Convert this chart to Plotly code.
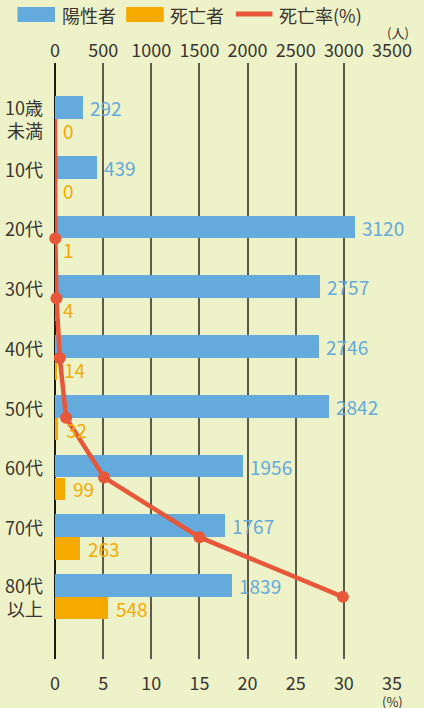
import plotly.graph_objects as go

categories = ["10歳<br>未満", "10代", "20代", "30代", "40代", "50代", "60代", "70代", "80代<br>以上"]
positives = [292, 439, 3120, 2757, 2746, 2842, 1956, 1767, 1839]
deaths = [0, 0, 1, 4, 14, 32, 99, 263, 548]
death_rate = [0, 0, 0.03, 0.15, 0.5, 1.15, 5.1, 15.0, 29.9]
count_ticks = [0, 500, 1000, 1500, 2000, 2500, 3000, 3500]
rate_ticks = [0, 5, 10, 15, 20, 25, 30, 35]

BLUE = "#64AADC"
ORANGE = "#F6AA00"
RED = "#E9573A"
BG = "#EDF2C8"
TXT = "#3a3530"
FONT = "Noto Sans CJK JP"

W, H = 424, 708
L, R, T, B = 55, 28, 63, 49
PW, PH = W - L - R, H - T - B

def px(xp):
    return (xp - L) / PW

def py(yp):
    return (H - B - yp) / PH

idx = list(range(len(categories)))
OFF = 0.19

fig = go.Figure()
fig.add_trace(go.Bar(
    y=[i - OFF for i in idx], x=positives, orientation="h", width=0.38,
    marker=dict(color=BLUE, line=dict(width=0)),
    xaxis="x", yaxis="y", showlegend=False, hoverinfo="x",
))
fig.add_trace(go.Bar(
    y=[i + OFF for i in idx], x=deaths, orientation="h", width=0.37,
    marker=dict(color=ORANGE, line=dict(width=0)),
    xaxis="x", yaxis="y", showlegend=False, hoverinfo="x",
))
fig.add_trace(go.Scatter(
    y=idx, x=death_rate, mode="lines+markers",
    line=dict(color=RED, width=4.5),
    marker=dict(color=RED, opacity=1, line=dict(width=0),
                size=[0 if r == 0 else 12 for r in death_rate]),
    xaxis="x2", yaxis="y", showlegend=False, cliponaxis=False,
))

# value labels
for i, v in enumerate(positives):
    fig.add_annotation(x=v, xref="x", y=i - OFF, yref="y", text=str(v),
                       showarrow=False, xanchor="left", yanchor="middle", xshift=5,
                       font=dict(size=19, color=BLUE, family=FONT))
for i, v in enumerate(deaths):
    fig.add_annotation(x=v, xref="x", y=i + OFF, yref="y", text=str(v),
                       showarrow=False, xanchor="left", yanchor="middle", xshift=6,
                       font=dict(size=19, color=ORANGE, family=FONT))

# category labels
for i, c in enumerate(categories):
    fig.add_annotation(
        x=0, xref="x", y=i, yref="y", text=c, showarrow=False,
        xanchor="right", yanchor="middle", xshift=-10,
        yshift=0 if "<br>" in c else 10,
        font=dict(size=18, color=TXT, family=FONT), align="right",
    )

fig.update_layout(
    width=W, height=H, margin=dict(l=L, r=R, t=T, b=B),
    paper_bgcolor=BG, plot_bgcolor=BG, barmode="overlay", bargap=0,
    font=dict(family=FONT, color=TXT),
    xaxis=dict(
        range=[0, 3500], side="top", tickvals=count_ticks,
        showgrid=True, gridcolor="#5f594a", gridwidth=1.5,
        zeroline=True, zerolinecolor="#1e1a16", zerolinewidth=1.5,
        showline=False, ticks="", ticklabelstandoff=1,
        tickfont=dict(size=18, color=TXT, family=FONT), fixedrange=True,
    ),
    xaxis2=dict(
        range=[0, 35], side="bottom", overlaying="x", anchor="y",
        tickvals=rate_ticks, showgrid=False, zeroline=False, showline=False,
        ticks="", ticklabelstandoff=12,
        tickfont=dict(size=18, color=TXT, family=FONT),
    ),
    yaxis=dict(
        range=[9.04, -0.937], showgrid=False, zeroline=False,
        showticklabels=False, showline=False, ticks="",
    ),
)

# unit labels
fig.add_annotation(x=px(402), y=py(32), xref="paper", yref="paper", text="(人)",
                   showarrow=False, xanchor="center", yanchor="middle",
                   font=dict(size=13, color=TXT, family=FONT))
fig.add_annotation(x=px(397), y=py(701), xref="paper", yref="paper", text="(%)",
                   showarrow=False, xanchor="center", yanchor="middle",
                   font=dict(size=13, color=TXT, family=FONT))

# legend
fig.add_shape(type="rect", xref="paper", yref="paper",
              x0=px(17), x1=px(55), y0=py(7), y1=py(22),
              fillcolor=BLUE, line=dict(width=0))
fig.add_annotation(x=px(60), y=py(15), xref="paper", yref="paper", text="陽性者",
                   showarrow=False, xanchor="left", yanchor="middle",
                   font=dict(size=18, color=TXT, family=FONT))
fig.add_shape(type="rect", xref="paper", yref="paper",
              x0=px(127), x1=px(165), y0=py(7), y1=py(22),
              fillcolor=ORANGE, line=dict(width=0))
fig.add_annotation(x=px(169), y=py(15), xref="paper", yref="paper", text="死亡者",
                   showarrow=False, xanchor="left", yanchor="middle",
                   font=dict(size=18, color=TXT, family=FONT))
fig.add_shape(type="line", xref="paper", yref="paper",
              x0=px(238), x1=px(275), y0=py(14), y1=py(14),
              line=dict(color=RED, width=5))
fig.add_annotation(x=px(280), y=py(15), xref="paper", yref="paper", text="死亡率(%)",
                   showarrow=False, xanchor="left", yanchor="middle",
                   font=dict(size=18, color=TXT, family=FONT))

fig.write_html(
    "out.html",
    config={"displayModeBar": False},
    post_script="document.body.style.margin='0';document.body.style.padding='0';",
)
